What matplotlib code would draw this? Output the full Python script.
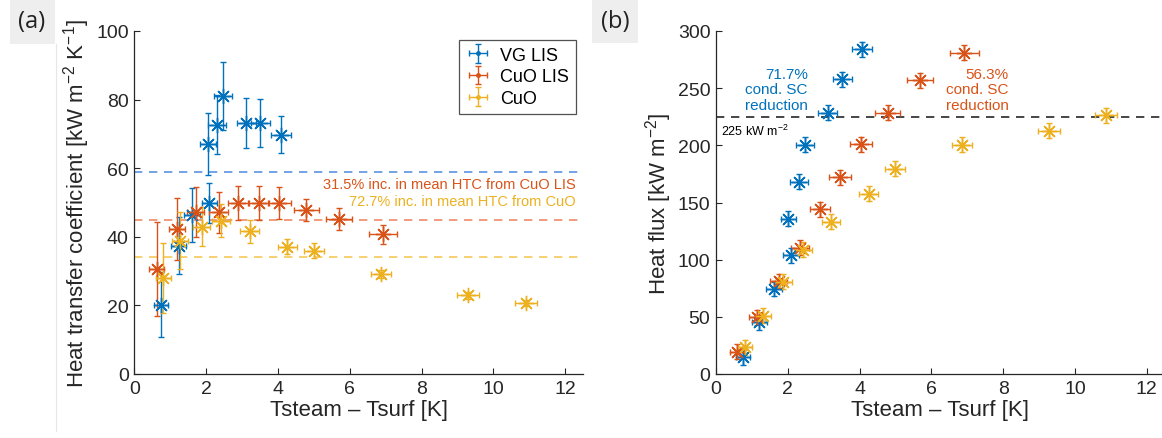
import matplotlib
matplotlib.use("Agg")
import matplotlib.pyplot as plt
from matplotlib.lines import Line2D
from matplotlib.patches import Rectangle
import numpy as np

plt.rcParams['font.family'] = ['Liberation Sans', 'DejaVu Sans']
plt.rcParams['mathtext.fontset'] = 'custom'
plt.rcParams['mathtext.rm'] = 'Liberation Sans'
plt.rcParams['mathtext.it'] = 'Liberation Sans'
plt.rcParams['mathtext.default'] = 'regular'
plt.rcParams['axes.unicode_minus'] = False

# ---------------- data ----------------
series_names = ["VG LIS", "CuO LIS", "CuO"]
colors = ["#0072BD", "#D95319", "#EDB120"]
mean_line_colors = ["#5b93e0", "#ee8a6a", "#f5c95a"]

# Panel (a): Tsteam - Tsurf [K] and heat transfer coefficient [kW m^-2 K^-1]
dT_vg = [0.75, 1.23, 1.60, 2.04, 2.09, 2.30, 2.47, 3.12, 3.51, 4.09]
htc_vg = [20.2, 37.4, 46.3, 67.0, 49.8, 72.6, 81.1, 73.3, 73.3, 69.8]
htc_vg_err = [9.5, 8.3, 7.9, 9.0, 5.8, 8.6, 10.0, 7.3, 7.0, 5.3]
dT_vg_err = [0.20, 0.20, 0.22, 0.22, 0.22, 0.24, 0.25, 0.26, 0.27, 0.28]

dT_cl = [0.62, 1.18, 1.71, 2.35, 2.90, 3.46, 4.04, 4.79, 5.71, 6.93]
htc_cl = [30.6, 42.2, 47.1, 47.1, 49.8, 49.8, 49.8, 47.9, 45.1, 40.7]
htc_cl_err = [13.6, 9.0, 7.3, 6.0, 5.0, 5.0, 4.7, 3.2, 3.2, 2.8]
dT_cl_err = [0.20, 0.22, 0.24, 0.26, 0.28, 0.30, 0.32, 0.34, 0.36, 0.40]

dT_cu = [0.81, 1.28, 1.88, 2.42, 3.21, 4.26, 5.00, 6.88, 9.30, 10.91]
htc_cu = [28.0, 38.8, 43.0, 44.7, 41.6, 37.1, 35.9, 29.1, 23.0, 20.7]
htc_cu_err = [10.3, 8.3, 5.8, 4.8, 3.3, 2.2, 2.2, 1.2, 1.0, 1.0]
dT_cu_err = [0.20, 0.22, 0.24, 0.25, 0.26, 0.27, 0.28, 0.28, 0.30, 0.31]

mean_htc = [59.0, 45.0, 34.2]

# Panel (b): heat flux [kW m^-2]
dTb_vg = [0.76, 1.21, 1.62, 2.09, 2.02, 2.31, 2.48, 3.11, 3.52, 4.07]
q_vg = [14.6, 45.1, 74.3, 104.0, 136.0, 168.0, 200.7, 228.6, 257.8, 284.0]
dTb_cl = [0.59, 1.15, 1.75, 2.34, 2.90, 3.46, 4.04, 4.78, 5.68, 6.92]
q_cl = [19.5, 49.5, 81.3, 110.4, 144.2, 171.9, 201.0, 228.7, 257.0, 281.1]
dTb_cu = [0.81, 1.32, 1.88, 2.43, 3.20, 4.25, 5.00, 6.86, 9.28, 10.86]
q_cu = [23.3, 51.0, 80.7, 108.7, 133.1, 157.6, 179.7, 200.7, 212.9, 226.3]
q_err = 6.5
q_ref = 225

xticks = [0, 2, 4, 6, 8, 10, 12]
yticks_a = [0, 20, 40, 60, 80, 100]
yticks_b = [0, 50, 100, 150, 200, 250, 300]

# ---------------- figure ----------------
W, H = 1162, 439
fig = plt.figure(figsize=(W / 100, H / 100), dpi=100)
fig.patch.set_facecolor("white")

axa = fig.add_axes([134.4 / W, (H - 375) / H, 448.6 / W, 343 / H])
axb = fig.add_axes([716 / W, (H - 375) / H, 448.6 / W, 343 / H])

asterisk = (8, 2, 0)
txtc = "#262626"


def style(ax, yt, ylim):
    ax.set_xlim(0, 12.5)
    ax.set_ylim(*ylim)
    ax.set_xticks(xticks)
    ax.set_yticks(yt)
    for s in ["top", "right"]:
        ax.spines[s].set_visible(False)
    for s in ["left", "bottom"]:
        ax.spines[s].set_color(txtc)
        ax.spines[s].set_linewidth(0.9)
    ax.tick_params(direction="in", length=4, width=0.8, colors=txtc,
                   labelsize=14, pad=4)
    ax.set_xlabel("Tsteam – Tsurf [K]", fontsize=16, color=txtc, labelpad=2)


panel_a = [(dT_vg, htc_vg, dT_vg_err, htc_vg_err),
           (dT_cl, htc_cl, dT_cl_err, htc_cl_err),
           (dT_cu, htc_cu, dT_cu_err, htc_cu_err)]
panel_b = [(dTb_vg, q_vg, dT_vg_err), (dTb_cl, q_cl, dT_cl_err),
           (dTb_cu, q_cu, dT_cu_err)]

# panel (a)
for i in range(3):
    axa.axhline(mean_htc[i], color=mean_line_colors[i], ls=(0, (5, 4)),
                lw=1.2, zorder=1)
for i, (x, y, xe, ye) in enumerate(panel_a):
    axa.errorbar(x, y, yerr=ye, xerr=xe, fmt=".", color=colors[i],
                 ms=5, lw=1.0, capsize=2.5, capthick=1.0,
                 label=series_names[i], zorder=3)
    axa.plot(x, y, ls="none", marker=asterisk, ms=11, mew=1.0,
             color=colors[i], zorder=4)

style(axa, yticks_a, (0, 100))
axa.set_ylabel("Heat transfer coefficient [kW m$^{-2}$ K$^{-1}$]",
               fontsize=16, color=txtc, labelpad=3)
leg = axa.legend(loc="upper right", bbox_to_anchor=(0.985, 0.975),
                 fontsize=13, frameon=True, fancybox=False,
                 edgecolor=txtc, handlelength=1.3, handletextpad=0.6,
                 borderpad=0.4, labelspacing=0.25, borderaxespad=0)
leg.get_frame().set_linewidth(0.9)
axa.text(0.983, 0.555, "31.5% inc. in mean HTC from CuO LIS",
         transform=axa.transAxes, ha="right", va="center",
         fontsize=10.5, color=colors[1])
axa.text(0.983, 0.505, "72.7% inc. in mean HTC from CuO",
         transform=axa.transAxes, ha="right", va="center",
         fontsize=10.5, color=colors[2])

# panel (b)
axb.axhline(q_ref, color="#262626", ls=(0, (5, 4)), lw=1.2, zorder=1)
for i, (x, y, xe) in enumerate(panel_b):
    axb.errorbar(x, y, yerr=q_err, xerr=xe, fmt=".", color=colors[i],
                 ms=5, lw=1.0, capsize=2.5, capthick=1.0, zorder=3)
    axb.plot(x, y, ls="none", marker=asterisk, ms=11, mew=1.0,
             color=colors[i], zorder=4)

style(axb, yticks_b, (0, 300))
axb.set_ylabel("Heat flux [kW m$^{-2}$]", fontsize=16, color=txtc, labelpad=3)
axb.text(0.205, 0.83, "71.7%\ncond. SC\nreduction", transform=axb.transAxes,
         ha="right", va="center", fontsize=11, color=colors[0],
         linespacing=1.15)
axb.text(0.653, 0.83, "56.3%\ncond. SC\nreduction", transform=axb.transAxes,
         ha="right", va="center", fontsize=11, color=colors[1],
         linespacing=1.15)
axb.text(0.012, 0.709, "225 kW m$^{-2}$", transform=axb.transAxes,
         ha="left", va="center", fontsize=9, color="black")

# panel letters with grey boxes
fig.add_artist(Rectangle((10 / W, 1 - 45 / H), 45 / W, 45 / H,
                         transform=fig.transFigure, facecolor="#eeeeee",
                         edgecolor="none", zorder=0))
fig.add_artist(Rectangle((592 / W, 1 - 44 / H), 46 / W, 44 / H,
                         transform=fig.transFigure, facecolor="#eeeeee",
                         edgecolor="none", zorder=0))
fig.add_artist(Line2D([55.5 / W, 55.5 / W], [1 - 432 / H, 1 - 45 / H],
                      transform=fig.transFigure, color="#e6e6e6", lw=0.8))
fig.text(32 / W, 1 - 22 / H, "(a)", ha="center", va="center", fontsize=17,
         family=["Open Sans", "DejaVu Sans"], color="#222222")
fig.text(615 / W, 1 - 22 / H, "(b)", ha="center", va="center", fontsize=17,
         family=["Open Sans", "DejaVu Sans"], color="#222222")

fig.savefig("out.png", dpi=100, facecolor="white")
